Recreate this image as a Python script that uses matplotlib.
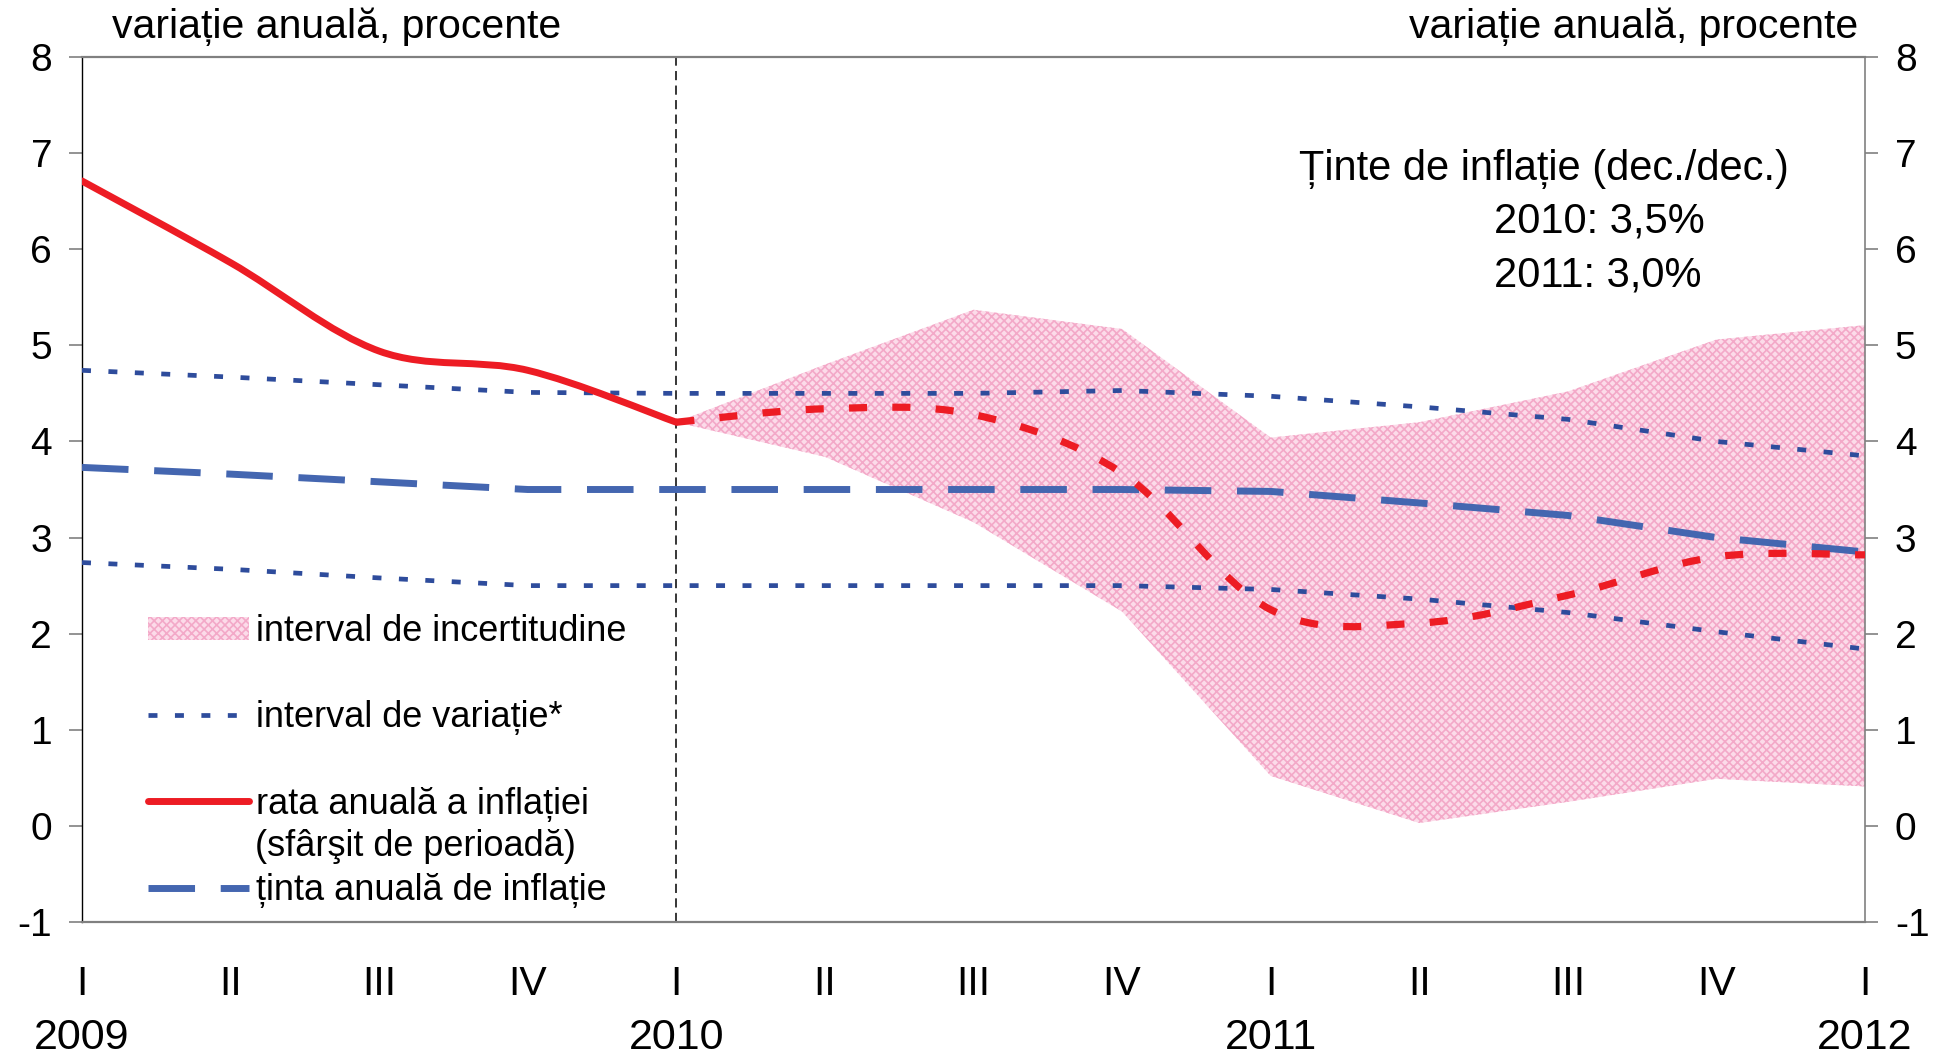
import numpy as np
import matplotlib
matplotlib.use('Agg')
import matplotlib.pyplot as plt
from matplotlib.path import Path
from matplotlib.patches import PathPatch, Patch
from matplotlib.lines import Line2D
import matplotlib.transforms as mtransforms

plt.rcParams['font.family'] = ['Liberation Sans', 'DejaVu Sans']
plt.rcParams['axes.unicode_minus'] = False
plt.rcParams['hatch.linewidth'] = 1.2

# ── data (quarterly, 2009 Q1 .. 2012 Q1) ─────────────────────────────────────
quarters = np.arange(13)
roman = ['I', 'II', 'III', 'IV', 'I', 'II', 'III', 'IV', 'I', 'II', 'III', 'IV', 'I']
years = ['2009', '2010', '2011', '2012']
year_pos = [0, 4, 8, 12]

q_actual = np.arange(0, 5)
inflation_actual = [6.71, 5.86, 4.94, 4.74, 4.20]

q_fc = np.arange(4, 13)
inflation_forecast = [4.20, 4.34, 4.28, 3.67, 2.25, 2.11, 2.40, 2.80, 2.82]
unc_upper = [4.20, 4.80, 5.37, 5.17, 4.04, 4.20, 4.52, 5.06, 5.21]
unc_lower = [4.20, 3.84, 3.16, 2.23, 0.52, 0.03, 0.25, 0.49, 0.41]

target    = [3.73, 3.66, 3.58, 3.50, 3.50, 3.50, 3.50, 3.50, 3.48, 3.36, 3.23, 3.00, 2.85]
var_upper = [4.74, 4.67, 4.59, 4.51, 4.50, 4.50, 4.50, 4.53, 4.47, 4.36, 4.23, 4.00, 3.85]
var_lower = [2.74, 2.67, 2.58, 2.50, 2.50, 2.50, 2.50, 2.50, 2.46, 2.36, 2.22, 2.02, 1.84]

RED = '#ED1C24'
BLUE_DOT = '#2E4C9C'
BLUE_DASH = '#4466B0'
PINK_FACE = '#fcdbe9'
PINK_HATCH = '#f3a9c8'
GREY = '#808080'

W, H = 1943, 1056


def smooth_path(xs, ys):
    """Excel-like smoothed line as cubic Bezier path in data coords."""
    pts = np.column_stack([xs, ys]).astype(float)
    n = len(pts)
    verts = [pts[0]]
    codes = [Path.MOVETO]
    for i in range(n - 1):
        p0 = pts[i - 1] if i > 0 else pts[i]
        p1, p2 = pts[i], pts[i + 1]
        p3 = pts[i + 2] if i + 2 < n else pts[i + 1]
        verts += [p1 + (p2 - p0) / 6, p2 - (p3 - p1) / 6, p2]
        codes += [Path.CURVE4] * 3
    return Path(verts, codes)


fig = plt.figure(figsize=(W / 100, H / 100), dpi=100)
ax = fig.add_axes([82 / W, 1 - 922 / H, (1865 - 82) / W, (922 - 57) / H])
ax.set_xlim(0, 12)
ax.set_ylim(-1, 8)

# uncertainty band
ax.fill_between(q_fc, unc_lower, unc_upper, facecolor=PINK_FACE,
                hatch='xxxx', edgecolor=PINK_HATCH, linewidth=0, zorder=1)

# variation interval and target
dot_ls = (0, (1.9, 3.7))
dash_ls = (0, (6.7, 3.7))
ax.plot(quarters, var_upper, color=BLUE_DOT, lw=3.4, ls=dot_ls, zorder=3)
ax.plot(quarters, var_lower, color=BLUE_DOT, lw=3.4, ls=dot_ls, zorder=3)
ax.plot(quarters, target, color=BLUE_DASH, lw=5.0, ls=dash_ls, zorder=3)

# inflation rate: actual + forecast (smoothed)
ax.add_patch(PathPatch(smooth_path(q_actual, inflation_actual), fill=False,
                       edgecolor=RED, lw=5.0, capstyle='round',
                       joinstyle='round', zorder=4))
ax.add_patch(PathPatch(smooth_path(q_fc, inflation_forecast), fill=False,
                       edgecolor=RED, lw=5.2, linestyle=(0, (2.5, 3.5)),
                       capstyle='butt', zorder=4))

ax.axvline(4, color='black', lw=1.1, ls=(0, (6, 3.5)), zorder=2)

# axes styling
for side in ['top', 'bottom', 'right']:
    ax.spines[side].set_color(GREY)
ax.spines['top'].set_linewidth(1.6)
ax.spines['bottom'].set_linewidth(1.6)
ax.spines['left'].set_color('black')
ax.spines['left'].set_linewidth(1.0)
ax.spines['right'].set_linewidth(1.2)

ax.set_yticks(range(-1, 9))
ax.tick_params(axis='y', which='both', direction='out', length=9.5, width=1.2,
               color=GREY, labelsize=28, left=True, right=True,
               labelleft=True, labelright=True)
ax.tick_params(axis='y', which='major', pad=12)

ax.set_xticks(quarters)
ax.set_xticklabels(roman)
ax.tick_params(axis='x', which='major', length=0, labelsize=29.5, pad=31)
ax.set_xticks([0, 12], minor=True)
ax.tick_params(axis='x', which='minor', length=8, width=1.0, color='black',
               direction='out')

trans = mtransforms.blended_transform_factory(ax.transData, ax.transAxes)
for yr, xp in zip(years, year_pos):
    ax.text(xp, -0.1115, yr, transform=trans, ha='center', va='top',
            fontsize=31)

# unit labels
fig.text(112 / W, 1 - 38 / H, 'variație anuală, procente', ha='left',
         va='baseline', fontsize=29.5)
fig.text(1858 / W, 1 - 38 / H, 'variație anuală, procente', ha='right',
         va='baseline', fontsize=29.5)

# targets annotation
fig.text(1299 / W, 1 - 180 / H, 'Ținte de inflație (dec./dec.)', ha='left',
         va='baseline', fontsize=30)
fig.text(1494 / W, 1 - 233 / H, '2010: 3,5%', ha='left', va='baseline',
         fontsize=30)
fig.text(1494 / W, 1 - 287 / H, '2011: 3,0%', ha='left', va='baseline',
         fontsize=30)

# legend
handles = [
    Patch(facecolor=PINK_FACE, hatch='xxxx', edgecolor=PINK_HATCH, linewidth=0),
    Line2D([], [], color=BLUE_DOT, lw=3.4, ls=dot_ls),
    Line2D([], [], color=RED, lw=5.0, solid_capstyle='round'),
    Line2D([], [], color=BLUE_DASH, lw=5.0, ls=dash_ls),
]
labels = ['interval de incertitudine', 'interval de variație*',
          'rata anuală a inflației', 'ținta anuală de inflație']
leg = ax.legend(handles, labels, loc='upper left',
                bbox_to_anchor=((148 - 82) / 1783, (922 - 614) / 865),
                frameon=False, fontsize=26, handlelength=2.8,
                handleheight=0.6, handletextpad=0.2, labelspacing=1.42,
                borderpad=0, borderaxespad=0)
ax.text((255 - 82) / 1783, (922 - 847) / 865, '(sfârşit de perioadă)',
        transform=ax.transAxes, ha='left', va='center', fontsize=26)

fig.savefig('out.png', dpi=100)
